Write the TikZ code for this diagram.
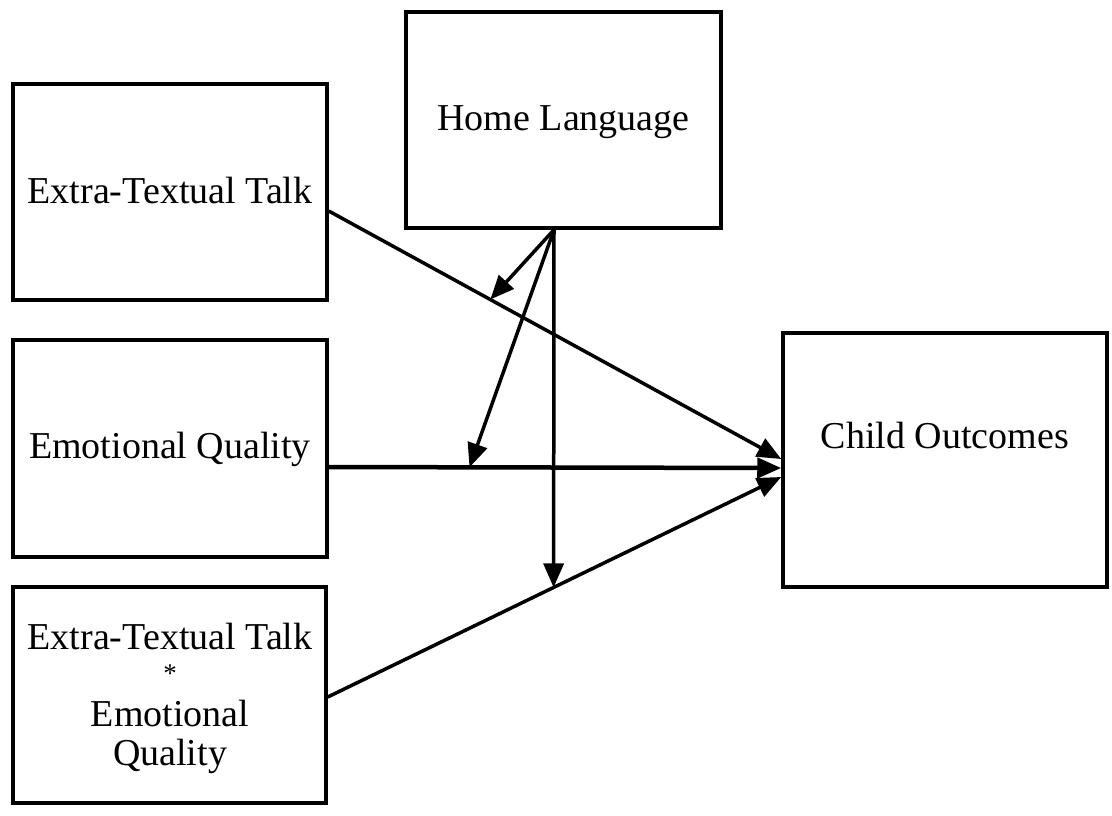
\documentclass[tikz,border=0pt]{standalone}
\usepackage{fontspec}
\setmainfont{Liberation Serif}
\usetikzlibrary{arrows.meta}
\begin{document}
\begin{tikzpicture}[x=1pt,y=-1pt,
  box/.style n args={2}{draw, line width=3.5pt, inner sep=0pt,
    minimum width=#1, minimum height=#2},
  lbl/.style={inner sep=0pt, font=\fontsize{38pt}{38.4pt}\selectfont},
  path/.style={line width=3.5pt, -{Triangle[length=24pt,width=20pt]}}]
\useasboundingbox (0,0) rectangle (1112,815);

% boxes
\node[box={314pt}{216pt}] (et)  at (170,192)   {};
\node[box={314pt}{217pt}] (eq)  at (170,448.5) {};
\node[box={313pt}{216pt}] (int) at (169.5,695) {};
\node[box={315pt}{216pt}] (hl)  at (563.5,120) {};
\node[box={324pt}{254pt}] (co)  at (945,460)   {};

% box texts
\node[lbl, anchor=base] (etlbl) at (170,203)   {Extra-Textual Talk};
\node[lbl, anchor=base] (eqlbl) at (170,458)   {Emotional Quality};
\node[lbl, anchor=base] (hllbl) at (563.5,130) {Home Language};
\node[lbl, anchor=base] (colbl) at (945,448)   {Child Outcomes};
\node[lbl, anchor=base, align=center] (intlbl) at (170,765)
  {Extra-Textual Talk\\\raisebox{6pt}{\fontsize{27pt}{27pt}\selectfont *}\\Emotional\\Quality};

% main effects on child outcomes, with points where the moderator acts
\draw[path] (et.east |- 0,211) -- coordinate[pos=0.357] (m1) (co.west |- 0,459);
\draw[path, line width=4.5pt] (eq.east |- 0,467) -- coordinate[pos=0.311] (m2) (co.west |- 0,468);
\draw[path] (int.east |- 0,697) -- coordinate[pos=0.498] (m3) (co.west |- 0,477);

% moderation by home language
\coordinate (hlout) at (hl.south -| 554,0);
\draw[path] (hlout) -- (m1);
\draw[path] (hlout) -- (m2);
\draw[path] (hlout) -- (m3);
\end{tikzpicture}
\end{document}
